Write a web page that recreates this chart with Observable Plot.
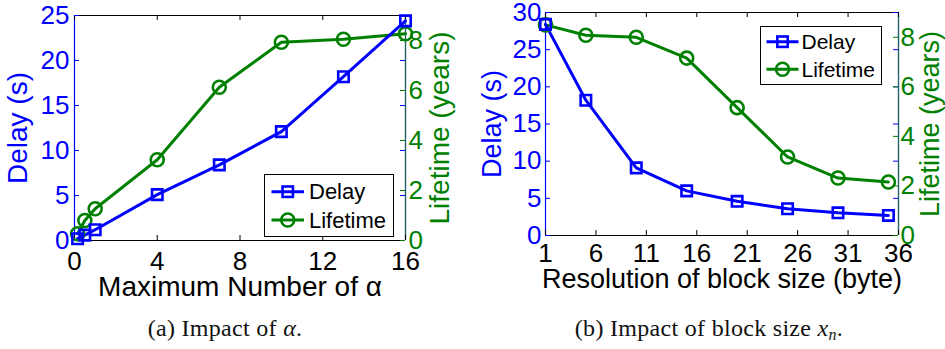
<!DOCTYPE html>
<html>
<head>
<meta charset="utf-8">
<script src="https://cdn.jsdelivr.net/npm/d3@7"></script>
<script src="https://cdn.jsdelivr.net/npm/@observablehq/plot@0.6"></script>
<style>
  html, body { margin: 0; padding: 0; background: #fff; }
  #page { position: relative; width: 945px; height: 349px; overflow: hidden; background: #fff; }
  .chart { position: absolute; top: 0; }
  .legend { position: absolute; border: 1.5px solid #000; background: #fff; box-sizing: border-box; }
  .caption { position: absolute; font-family: "Liberation Serif", "DejaVu Serif", serif; font-size: 24px; letter-spacing: 0.3px; color: #111; text-align: center; white-space: nowrap; line-height: 1; }
  .caption sub { font-size: 16px; vertical-align: -4px; line-height: 0; }
</style>
</head>
<body>
<div id="page"></div>
<script>
// ---- Data ----
const alphaX = [0.15, 0.5, 1, 4, 7, 10, 13, 16];
const alphaDelay = [0.2, 0.6, 1.2, 5.1, 8.4, 12.1, 18.2, 24.4];
const alphaLifetime = [0.27, 0.8, 1.27, 3.23, 6.13, 7.93, 8.05, 8.27];

const blockX = [1, 5, 10, 15, 20, 25, 30, 35];
const blockDelay = [28.4, 18.2, 9.1, 6.0, 4.6, 3.6, 3.05, 2.7];
const blockLifetime = [8.5, 8.08, 8.0, 7.16, 5.16, 3.17, 2.32, 2.16];

const alphaXTicks = [0, 4, 8, 12, 16];
const alphaDelayTicks = [0, 5, 10, 15, 20, 25];
const blockXTicks = [1, 6, 11, 16, 21, 26, 31, 36];
const blockDelayTicks = [0, 5, 10, 15, 20, 25, 30];
const lifetimeTicks = [0, 2, 4, 6, 8];
const lifetimeMax = 9;

const seriesNames = ["Delay", "Lifetime"];
const xLabels = ["Maximum Number of α", "Resolution of block size (byte)"];
const yLabel = "Delay (s)";
const y2Label = "Lifetime (years)";

const BLUE = "#0000ff";
const GREEN = "#008000";
const RIGHTAXIS = "#23606c";
const FONT = "'Liberation Sans', Arial, sans-serif";

function makeChart(cfg) {
  const {xs, delay, life, xDomain, yDomain, xTicks, yTicks, width, height, ml, mr, mt, mb,
         xPad, yPad, y2Pad, xLabel, xLabelDy, yLabelDx, y2LabelDx, labelSize} = cfg;
  const k = yDomain[1] / lifetimeMax;
  const dData = xs.map((x, i) => ({x, y: delay[i]}));
  const lData = xs.map((x, i) => ({x, y: life[i] * k}));
  const y2Ticks = lifetimeTicks.map(t => t * k);
  const pw = width - ml - mr, ph = height - mt - mb;
  const tl = 5;
  return Plot.plot({
    width, height,
    marginLeft: ml, marginRight: mr, marginTop: mt, marginBottom: mb,
    style: {fontSize: "26px", fontFamily: FONT, background: "transparent", overflow: "visible"},
    x: {domain: xDomain, axis: null},
    y: {domain: yDomain, axis: null},
    marks: [
      // frame
      Plot.ruleY([yDomain[1]], {stroke: "#000", strokeWidth: 1.2}),
      Plot.ruleY([yDomain[0]], {stroke: "#000", strokeWidth: 1.2}),
      Plot.ruleX([xDomain[0]], {stroke: BLUE, strokeWidth: 1.2}),
      Plot.ruleX([xDomain[1]], {stroke: RIGHTAXIS, strokeWidth: 1.4}),
      // inward ticks
      Plot.tickX(xTicks, {x: d => d, stroke: "#000", insetTop: ph - tl}),
      Plot.tickX(xTicks, {x: d => d, stroke: "#000", insetBottom: ph - tl}),
      Plot.tickY(yTicks, {y: d => d, stroke: BLUE, insetRight: pw - tl}),
      Plot.tickY(yTicks, {y: d => d, stroke: BLUE, insetLeft: pw - tl}),
      Plot.tickY(y2Ticks, {y: d => d, stroke: GREEN, insetLeft: pw - tl}),
      // data
      Plot.line(lData, {x: "x", y: "y", stroke: GREEN, strokeWidth: 3}),
      Plot.line(dData, {x: "x", y: "y", stroke: BLUE, strokeWidth: 3}),
      Plot.dot(lData, {x: "x", y: "y", symbol: "circle", r: 6.5, stroke: GREEN, strokeWidth: 2.6, fill: "none"}),
      Plot.dot(dData, {x: "x", y: "y", symbol: "square", r: 5.9, stroke: BLUE, strokeWidth: 2.6, fill: "none"}),
      // tick labels
      Plot.axisX(xTicks, {anchor: "bottom", label: null, tickSize: 0, tickPadding: xPad, color: "#000", fill: "#000", fontSize: 26}),
      Plot.axisY(yTicks, {anchor: "left", label: null, tickSize: 0, tickPadding: yPad, color: BLUE, fill: BLUE, fontSize: 26}),
      Plot.axisY(y2Ticks, {anchor: "right", label: null, tickSize: 0, tickPadding: y2Pad, color: GREEN, fill: GREEN, fontSize: 26,
        tickFormat: d => String(Math.round(d / k))}),
      // axis labels
      Plot.text([xLabel], {text: d => d, frameAnchor: "bottom", textAnchor: "middle", lineAnchor: "middle", dy: xLabelDy, fill: "#000", fontSize: labelSize}),
      Plot.text([yLabel], {text: d => d, frameAnchor: "left", textAnchor: "middle", lineAnchor: "middle", dx: yLabelDx, rotate: -90, fill: BLUE, fontSize: labelSize}),
      Plot.text([y2Label], {text: d => d, frameAnchor: "right", textAnchor: "middle", lineAnchor: "middle", dx: y2LabelDx, rotate: -90, fill: GREEN, fontSize: labelSize})
    ]
  });
}

const page = document.getElementById("page");

const c1 = makeChart({
  xs: alphaX, delay: alphaDelay, life: alphaLifetime,
  xDomain: [0, 16], yDomain: [0, 25], xTicks: alphaXTicks, yTicks: alphaDelayTicks,
  width: 470, height: 300, ml: 74, mr: 65, mt: 15, mb: 60,
  xPad: 11, yPad: 5, y2Pad: 3, xLabel: xLabels[0], xLabelDy: 47, yLabelDx: -56, y2LabelDx: 35, labelSize: 28
});
c1.classList.add("chart"); c1.style.left = "0px";
page.appendChild(c1);

const c2 = makeChart({
  xs: blockX, delay: blockDelay, life: blockLifetime,
  xDomain: [1, 36], yDomain: [0, 30], xTicks: blockXTicks, yTicks: blockDelayTicks,
  width: 475, height: 300, ml: 75, mr: 47, mt: 12, mb: 65,
  xPad: 8, yPad: 4, y2Pad: 2, xLabel: xLabels[1], xLabelDy: 44, yLabelDx: -53, y2LabelDx: 32, labelSize: 27
});
c2.classList.add("chart"); c2.style.left = "470px";
page.appendChild(c2);

// legends
function legend(box, fontSize) {
  const {left, top, w, h, lineX0, lineX1, textX, rows} = box;
  const div = document.createElement("div");
  div.className = "legend";
  Object.assign(div.style, {left: left + "px", top: top + "px", width: w + "px", height: h + "px"});
  const ns = "http://www.w3.org/2000/svg";
  const svg = document.createElementNS(ns, "svg");
  svg.setAttribute("width", w); svg.setAttribute("height", h);
  svg.style.position = "absolute"; svg.style.left = "-1.5px"; svg.style.top = "-1.5px"; svg.style.overflow = "visible";
  const colors = [BLUE, GREEN];
  seriesNames.forEach((name, i) => {
    const y = rows[i];
    const ln = document.createElementNS(ns, "line");
    ln.setAttribute("x1", lineX0); ln.setAttribute("x2", lineX1);
    ln.setAttribute("y1", y); ln.setAttribute("y2", y);
    ln.setAttribute("stroke", colors[i]); ln.setAttribute("stroke-width", 3);
    svg.appendChild(ln);
    const cx = (lineX0 + lineX1) / 2;
    let m;
    if (i === 0) {
      m = document.createElementNS(ns, "rect");
      m.setAttribute("x", cx - 5.2); m.setAttribute("y", y - 5.2);
      m.setAttribute("width", 10.4); m.setAttribute("height", 10.4);
    } else {
      m = document.createElementNS(ns, "circle");
      m.setAttribute("cx", cx); m.setAttribute("cy", y); m.setAttribute("r", 6.5);
    }
    m.setAttribute("fill", "none"); m.setAttribute("stroke", colors[i]); m.setAttribute("stroke-width", 2.6);
    svg.appendChild(m);
    const t = document.createElementNS(ns, "text");
    t.setAttribute("x", textX); t.setAttribute("y", y);
    t.setAttribute("dy", "0.35em");
    t.setAttribute("font-family", FONT); t.setAttribute("font-size", fontSize);
    t.setAttribute("fill", "#000");
    t.textContent = name;
    svg.appendChild(t);
  });
  div.appendChild(svg);
  page.appendChild(div);
}
legend({left: 264, top: 174, w: 130, h: 63, lineX0: 7.5, lineX1: 40, textX: 45, rows: [17.7, 46]}, 22);
legend({left: 760, top: 26, w: 122, h: 59, lineX0: 6.5, lineX1: 38.5, textX: 41.5, rows: [15.7, 43.3]}, 21);

// captions
function caption(html, center) {
  const d = document.createElement("div");
  d.className = "caption";
  d.innerHTML = html;
  d.style.left = (center - 200) + "px";
  d.style.width = "400px";
  d.style.top = "316px";
  page.appendChild(d);
}
caption("(a) Impact of <i>α</i>.", 225);
caption("(b) Impact of block size <i>x<sub>n</sub></i>.", 709);
</script>
</body>
</html>
